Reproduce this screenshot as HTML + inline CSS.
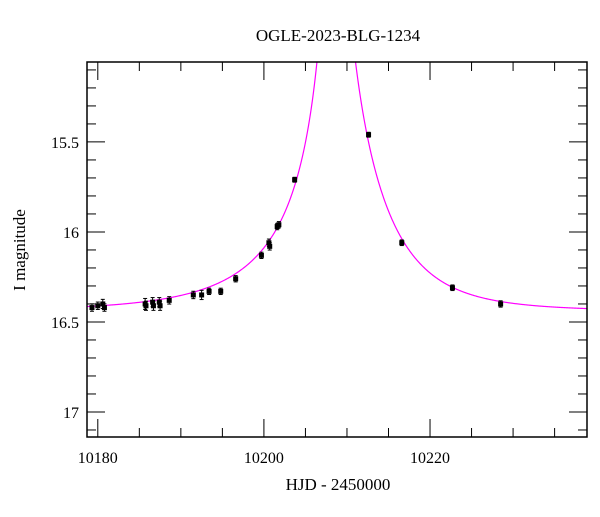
<!DOCTYPE html>
<html><head><meta charset="utf-8"><style>
html,body{margin:0;padding:0;background:#fff;}
svg text{font-family:"Liberation Serif","DejaVu Serif",serif;fill:#000;}
</style></head><body>
<svg id="chart" width="600" height="512" viewBox="0 0 600 512" xmlns="http://www.w3.org/2000/svg">
<text x="338" y="41" font-size="17" text-anchor="middle">OGLE-2023-BLG-1234</text>
<text x="338" y="490" font-size="17" text-anchor="middle">HJD - 2450000</text>
<text x="0" y="0" font-size="17" text-anchor="middle" transform="translate(25,250) rotate(-90)">I magnitude</text>
<g id="ticks"></g>
<g id="curve"></g>
<g id="points"></g>
<rect x="87" y="62" width="500" height="375" fill="none" stroke="#000" stroke-width="1.5"/>
</svg>
<script>
const times = [10179.3,10180.0,10180.6,10180.8,10185.7,10185.8,10186.6,10186.7,10187.4,10187.5,10188.6,10191.5,10192.5,10193.4,10194.8,10196.6,10199.7,10200.6,10200.7,10201.6,10201.8,10203.7,10212.6,10216.6,10222.7,10228.5];
const mags = [16.42,16.41,16.40,16.42,16.40,16.41,16.39,16.41,16.39,16.41,16.38,16.35,16.35,16.33,16.33,16.26,16.13,16.06,16.08,15.97,15.96,15.71,15.46,16.06,16.31,16.40];
const errs = [0.015,0.015,0.02,0.015,0.025,0.02,0.02,0.02,0.02,0.02,0.015,0.015,0.02,0.012,0.012,0.012,0.012,0.015,0.015,0.012,0.012,0.008,0.008,0.01,0.01,0.012];
const xMajorTicks = [10180,10200,10220];
const yMajorTicks = [15.5,16,16.5,17];
const yTickLabels = ["15.5","16","16.5","17"];
const modelLeft = [16.44, 10208.3, 0.02, 15, 0.38];  // m0, t0, u0, tE, source fraction
const modelRight = [16.44, 10208.3, 0.02, 9.5, 1.0];

const X0=87,X1=587,Y0=62,Y1=437;
const xmin=10178.7,xmax=10238.9,ymin=15.056,ymax=17.139;
const sx=t=>X0+(t-xmin)/(xmax-xmin)*(X1-X0);
const sy=m=>Y0+(m-ymin)/(ymax-ymin)*(Y1-Y0);
const NS='http://www.w3.org/2000/svg';
function mk(tag,attrs,parent){const e=document.createElementNS(NS,tag);for(const k in attrs)e.setAttribute(k,attrs[k]);parent.appendChild(e);return e;}
const tg=document.getElementById('ticks');
for(let t=10180;t<=xmax;t+=5){
  const maj=(t%20===0);
  const L=maj?18:9,x=sx(t);
  const a=mk('line',{x1:x,x2:x,y1:Y1,y2:Y1-L,stroke:'#000','stroke-width':1},tg);
  
  
  const b=mk('line',{x1:x,x2:x,y1:Y0,y2:Y0+L,stroke:'#000','stroke-width':1},tg);
  
  
}
xMajorTicks.forEach(t=>{
  const tx=mk('text',{x:sx(t),y:463,'font-size':16,'text-anchor':'middle'},tg);
  tx.textContent=t;
  
  
});
for(let i=0;i<=21;i++){
  const m=15.1+i*0.1; if(m>ymax)break;
  const maj=Math.abs(m*2-Math.round(m*2))<1e-6;
  const L=maj?18:9,y=sy(m);
  const a=mk('line',{x1:X0,x2:X0+L,y1:y,y2:y,stroke:'#000','stroke-width':1},tg);
  
  
  const b=mk('line',{x1:X1,x2:X1-L,y1:y,y2:y,stroke:'#000','stroke-width':1},tg);
  
  
}
yMajorTicks.forEach((m,i)=>{
  const tx=mk('text',{x:79,y:sy(m)+6,'font-size':16,'text-anchor':'end'},tg);
  tx.textContent=yTickLabels[i];
  
  
});
function model(t){
  const p=t<modelLeft[1]?modelLeft:modelRight;
  const [m0,t0,u0,tE,fs]=p;
  const tau=(t-t0)/tE;const u=Math.sqrt(u0*u0+tau*tau);
  const A=(u*u+2)/(u*Math.sqrt(u*u+4));
  return m0-2.5*Math.log10(fs*(A-1)+1);
}
let d='';
for(let px=X0;px<=X1;px+=0.5){
  const t=xmin+(px-X0)/(X1-X0)*(xmax-xmin);
  const y=Math.max(sy(model(t)),Y0-5);
  d+=(d?'L':'M')+px.toFixed(2)+','+y.toFixed(2);
}
const cg=document.getElementById('curve');
const defs=mk('clipPath',{id:'clip'},cg);mk('rect',{x:X0,y:Y0,width:X1-X0,height:Y1-Y0},defs);
const path=mk('path',{d:d,fill:'none',stroke:'#ff00ff','stroke-width':1.2,'clip-path':'url(#clip)'},cg);


const pg=document.getElementById('points');
times.forEach((t,i)=>{
  const x=sx(t),y=sy(mags[i]),e=errs[i]*(Y1-Y0)/(ymax-ymin);
  const g=mk('g',{},pg);
  
  
  mk('line',{x1:x,x2:x,y1:y-e-1,y2:y+e+1,stroke:'#000','stroke-width':1},g);
  mk('line',{x1:x-2,x2:x+2,y1:y-e-1,y2:y-e-1,stroke:'#000','stroke-width':1},g);
  mk('line',{x1:x-2,x2:x+2,y1:y+e+1,y2:y+e+1,stroke:'#000','stroke-width':1},g);
  mk('rect',{x:x-2.5,y:y-2.5,width:5,height:5,fill:'#000'},g);
});
</script>
</body></html>
